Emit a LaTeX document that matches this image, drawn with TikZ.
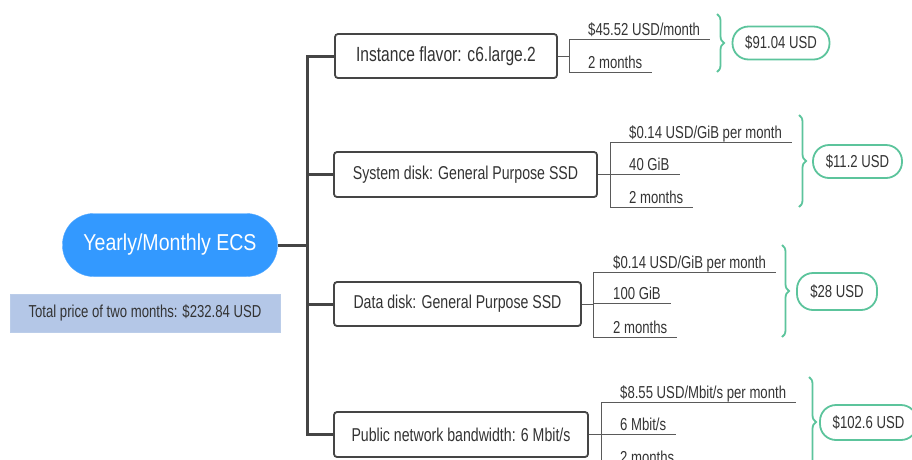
\documentclass[tikz,border=0pt]{standalone}
\usepackage{fontspec}
\setmainfont{Liberation Sans}[FakeStretch=0.85]
\newfontfamily\narrowsans{Liberation Sans}[FakeStretch=0.76]
\usetikzlibrary{calc,decorations.pathreplacing}

\definecolor{rootblue}{HTML}{3399FF}
\definecolor{notefill}{HTML}{B4C7E7}
\definecolor{ink}{HTML}{333333}
\definecolor{edge}{HTML}{454545}
\definecolor{leafgray}{HTML}{5A5A5A}
\definecolor{sumgreen}{HTML}{5CC49C}

\begin{document}
\begin{tikzpicture}[x=1pt,y=-1pt,
  rootnode/.style={fill=rootblue, draw=rootblue!85!white, text=white,
    rounded corners=31pt, minimum width=215pt, minimum height=63pt,
    inner sep=0pt, font=\fontsize{23}{27}\selectfont},
  notebox/.style={fill=notefill, draw=notefill!90!white, text=ink,
    minimum width=270pt, minimum height=38pt, inner sep=0pt,
    font=\narrowsans\fontsize{17.3}{20}\selectfont},
  itembox/.style={draw=edge, line width=1.8pt, rounded corners=3pt, fill=white,
    text=ink, minimum height=44pt, inner sep=0pt,
    font=\narrowsans\fontsize{18.6}{21}\selectfont},
  leaf/.style={anchor=south west, inner sep=0pt, text depth=0pt, text=ink,
    font=\narrowsans\fontsize{17.3}{20}\selectfont},
  leafline/.style={draw=leafgray, line width=1pt},
  trunk/.style={draw=edge, line width=3pt},
  sumbrace/.style={draw=sumgreen, line width=1.8pt, decorate,
    decoration={brace, amplitude=7pt}},
  pill/.style={draw=sumgreen, line width=1.8pt, rounded corners=16pt, fill=white,
    text=ink, minimum height=33pt, inner sep=0pt,
    font=\narrowsans\fontsize{17.3}{20}\selectfont}
]
\clip (0,0) rectangle (912,459);

% root and total price
\node[rootnode] (root) at (170,245) {Yearly/Monthly ECS};
\node[notebox] (note) at (145,313) {Total price of two months: \$232.84 USD};

% cost items
\node[itembox, minimum width=222pt, font=\narrowsans\fontsize{20.5}{23}\selectfont] (inst) at (446,56) {Instance flavor: c6.large.2};
\node[itembox, minimum width=263pt, minimum height=45pt] (sys) at (465.5,174.5) {System disk: General Purpose SSD};
\node[itembox, minimum width=247pt] (dat) at (457.5,304) {Data disk: General Purpose SSD};
\node[itembox, minimum width=254pt, minimum height=45pt] (pub) at (461,434.5) {Public network bandwidth: 6 Mbit/s};

% trunk
\coordinate (tx) at (307,0);
\draw[trunk] (root.east) -- (root.east -| tx);
\draw[trunk] (inst.west) -- (inst.west -| tx) -- (pub.west -| tx) -- (pub.west);
\draw[trunk] (sys.west) -- (sys.west -| tx);
\draw[trunk] (dat.west) -- (dat.west -| tx);

% instance flavor
\coordinate (ib) at (569,0);
\node[leaf] (i1) at (588,36) {\$45.52 USD/month};
\node[leaf] (i2) at (588,68.5) {2 months};
\draw[leafline] (inst.east) -- (inst.east -| ib);
\draw[leafline] ($(i1.south west -| ib)+(0,3.5)$) -- ($(i2.south west -| ib)+(0,3.5)$);
\draw[leafline] ($(i1.south west -| ib)+(0,3.5)$) -- ($(i1.south east)+(10,3.5)$);
\draw[leafline] ($(i2.south west -| ib)+(0,3.5)$) -- ($(i2.south east)+(10,3.5)$);
\draw[sumbrace] (717,14) -- (717,72);
\node[pill, minimum width=97pt] (isum) at (781,43) {\$91.04 USD};

% system disk
\coordinate (sb) at (610,0);
\node[leaf] (s1) at (629,138.5) {\$0.14 USD/GiB per month};
\node[leaf] (s2) at (629,170.5) {40 GiB};
\node[leaf] (s3) at (629,203.5) {2 months};
\draw[leafline] (sys.east) -- (sys.east -| sb);
\draw[leafline] ($(s1.south west -| sb)+(0,3.5)$) -- ($(s3.south west -| sb)+(0,3.5)$);
\foreach \n in {s1,s2,s3}
  \draw[leafline] ($(\n.south west -| sb)+(0,3.5)$) -- ($(\n.south east)+(10,3.5)$);
\draw[sumbrace] (799,115) -- (799,207);
\node[pill, minimum width=89pt] (ssum) at (857.5,161.5) {\$11.2 USD};

% data disk
\coordinate (db) at (593,0);
\node[leaf] (d1) at (613,268.5) {\$0.14 USD/GiB per month};
\node[leaf] (d2) at (613,299.5) {100 GiB};
\node[leaf] (d3) at (613,333.5) {2 months};
\draw[leafline] (dat.east) -- (dat.east -| db);
\draw[leafline] ($(d1.south west -| db)+(0,3.5)$) -- ($(d3.south west -| db)+(0,3.5)$);
\foreach \n in {d1,d2,d3}
  \draw[leafline] ($(\n.south west -| db)+(0,3.5)$) -- ($(\n.south east)+(10,3.5)$);
\draw[sumbrace] (782,245) -- (782,337);
\node[pill, minimum width=80pt, minimum height=37pt] (dsum) at (837,291.5) {\$28 USD};

% public network bandwidth
\coordinate (pb) at (601,0);
\node[leaf] (p1) at (620,398.5) {\$8.55 USD/Mbit/s per month};
\node[leaf] (p2) at (620,430.5) {6 Mbit/s};
\node[leaf] (p3) at (620,463.5) {2 months};
\draw[leafline] (pub.east) -- (pub.east -| pb);
\draw[leafline] ($(p1.south west -| pb)+(0,3.5)$) -- ($(p3.south west -| pb)+(0,3.5)$);
\foreach \n in {p1,p2,p3}
  \draw[leafline] ($(\n.south west -| pb)+(0,3.5)$) -- ($(\n.south east)+(10,3.5)$);
\draw[sumbrace] (809,377) -- (809,467);
\node[pill, minimum width=97pt, minimum height=35pt] (psum) at (868.5,422.5) {\$102.6 USD};
\end{tikzpicture}
\end{document}
